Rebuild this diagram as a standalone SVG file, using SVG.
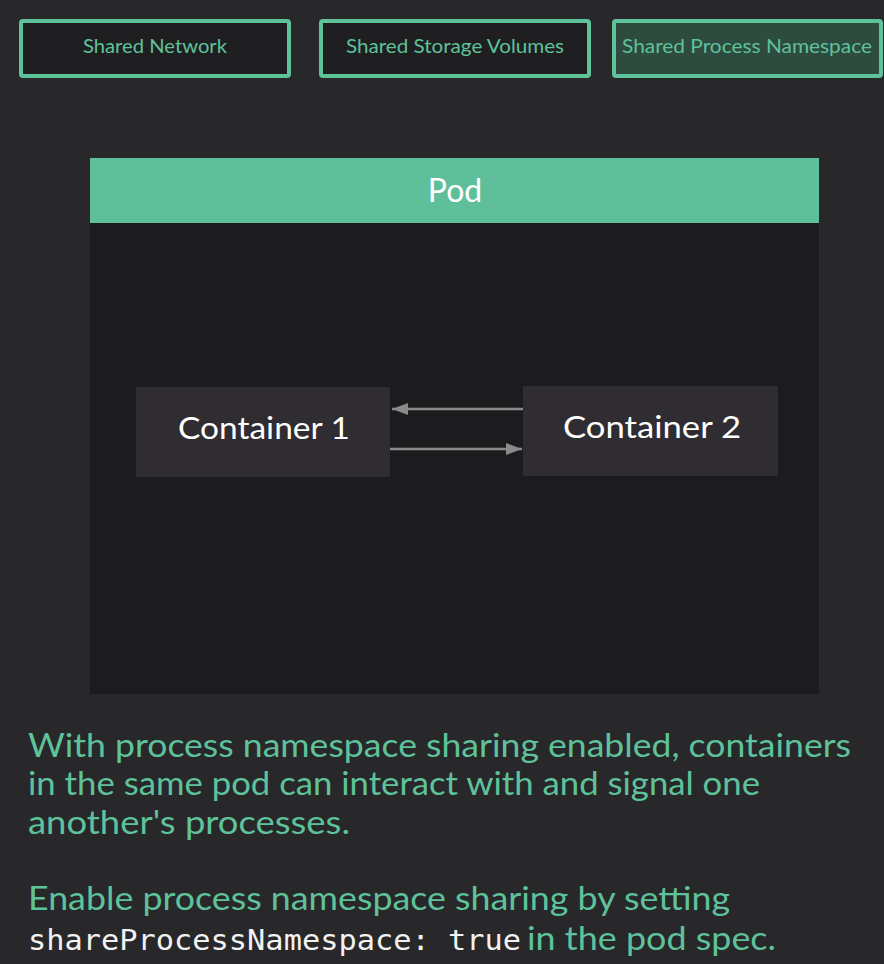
<svg xmlns="http://www.w3.org/2000/svg" width="884" height="964" viewBox="0 0 884 964">
<style>
.tab{fill:#1f1f21;stroke:#5ec29a;stroke-width:4}
.tabt{font-family:Lato,"Noto Sans",sans-serif;font-size:19px;fill:#5ec29a;text-anchor:middle}
.cont{fill:#2f2d31}
.ct{font-family:Lato,"Noto Sans",sans-serif;font-size:31px;fill:#ffffff;text-anchor:middle}
.body{font-family:Lato,"Noto Sans",sans-serif;font-size:32px;fill:#5ec29a}
.mono{font-family:"DejaVu Sans Mono","Liberation Mono",monospace;font-size:29px;fill:#f2f2f2}
.conn{stroke:#8a8a8c;stroke-width:2.5;fill:none;marker-end:url(#ah)}
</style>
<defs>
<marker id="ah" viewBox="0 0 10 10" refX="10" refY="5" markerWidth="16" markerHeight="12" markerUnits="userSpaceOnUse" orient="auto" preserveAspectRatio="none">
<path d="M0,0 L10,5 L0,10 z" fill="#8a8a8c"/>
</marker>
</defs>
<rect width="884" height="964" fill="#28272a"/>
<g id="tab-network"><rect class="tab" x="21" y="21" width="268" height="55" rx="2"/><text class="tabt" x="155" y="53" textLength="144" lengthAdjust="spacingAndGlyphs">Shared Network</text></g>
<g id="tab-storage"><rect class="tab" x="321" y="21" width="268" height="55" rx="2"/><text class="tabt" x="455" y="53" textLength="218" lengthAdjust="spacingAndGlyphs">Shared Storage Volumes</text></g>
<g id="tab-process"><rect class="tab" x="614" y="21" width="267" height="55" rx="2" style="fill:#2e4b3f"/><text class="tabt" x="747" y="53" textLength="250" lengthAdjust="spacingAndGlyphs">Shared Process Namespace</text></g>
<g id="pod">
<rect x="90" y="223" width="729" height="471" fill="#1c1c1e"/>
<rect x="90" y="158" width="729" height="65" fill="#5fbf9b"/>
<text x="455" y="202" font-family="Lato,'Noto Sans',sans-serif" font-size="32" fill="#ffffff" text-anchor="middle">Pod</text>
</g>
<g id="container1"><rect class="cont" x="136" y="387" width="254" height="90"/><text class="ct" x="264" y="439" textLength="172" lengthAdjust="spacingAndGlyphs">Container 1</text></g>
<g id="container2"><rect class="cont" x="523" y="386" width="255" height="90"/><text class="ct" x="652" y="438" textLength="178" lengthAdjust="spacingAndGlyphs">Container 2</text></g>
<g id="connectors">
<line class="conn" x1="523" y1="409" x2="392" y2="409"/>
<line class="conn" x1="390" y1="449" x2="522" y2="449"/>
</g>
<g id="description">
<text class="body" x="28" y="757" textLength="823" lengthAdjust="spacingAndGlyphs">With process namespace sharing enabled, containers</text>
<text class="body" x="28" y="795" textLength="732" lengthAdjust="spacingAndGlyphs">in the same pod can interact with and signal one</text>
<text class="body" x="28" y="834" textLength="322" lengthAdjust="spacingAndGlyphs">another's processes.</text>
<text class="body" x="28" y="910" textLength="702" lengthAdjust="spacingAndGlyphs">Enable process namespace sharing by setting</text>
<text class="mono" x="28" y="950" textLength="493" lengthAdjust="spacingAndGlyphs">shareProcessNamespace: true</text>
<text class="body" x="527" y="950" textLength="249" lengthAdjust="spacingAndGlyphs">in the pod spec.</text>
</g>
</svg>
